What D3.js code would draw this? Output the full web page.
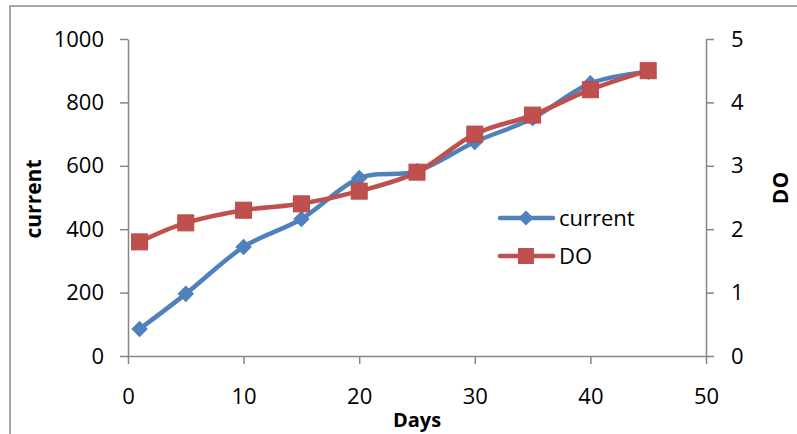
<!DOCTYPE html>
<html><head><meta charset="utf-8">
<script src="https://cdn.jsdelivr.net/npm/d3@7"></script>
<style>
html,body{margin:0;padding:0;background:#fff;overflow:hidden;}
svg{display:block;font-family:"Open Sans",sans-serif;}
</style></head>
<body>
<svg id="c" width="797" height="434"></svg>
<script>
const days = [1, 5, 10, 15, 20, 25, 30, 35, 40, 45];
const current = [85, 196, 344, 432, 561, 583, 675, 750, 860, 897];
const DO = [1.8, 2.1, 2.3, 2.4, 2.6, 2.9, 3.5, 3.8, 4.2, 4.5];
const xTicks = [0, 10, 20, 30, 40, 50];
const yLeftTicks = [0, 200, 400, 600, 800, 1000];
const yRightTicks = [0, 1, 2, 3, 4, 5];

const svg = d3.select("#c");
const L = 128, R = 706, T = 39, B = 356;
const x = d3.scaleLinear().domain([0, 50]).range([L, R]);
const yL = d3.scaleLinear().domain([0, 1000]).range([B, T]);
const yR = d3.scaleLinear().domain([0, 5]).range([B, T]);
const axisCol = "#868686";
const blue = "#4F81BD", red = "#C0504D";
const fmt = d3.format("d");

// outer border
svg.append("rect").attr("x", 10).attr("y", 6).attr("width", 800).attr("height", 440)
  .attr("fill", "none").attr("stroke", "#a6a6a6").attr("stroke-width", 2);

function styleAxis(g) {
  g.selectAll("path").attr("stroke", axisCol).attr("stroke-width", 1.5);
  g.selectAll("line").attr("stroke", axisCol).attr("stroke-width", 1.5);
  g.selectAll("text").attr("fill", "#000").style("font-size", "22px").style("font-family", "'Open Sans',sans-serif");
}

const gx = svg.append("g").attr("transform", `translate(0,${B})`)
  .call(d3.axisBottom(x).tickValues(xTicks).tickFormat(fmt).tickSize(8).tickSizeOuter(0).tickPadding(29));
styleAxis(gx);
const gl = svg.append("g").attr("transform", `translate(${L},0)`)
  .call(d3.axisLeft(yL).tickValues(yLeftTicks).tickFormat(fmt).tickSize(8).tickSizeOuter(0).tickPadding(16));
styleAxis(gl);
const gr = svg.append("g").attr("transform", `translate(${R},0)`)
  .call(d3.axisRight(yR).tickValues(yRightTicks).tickFormat(fmt).tickSize(8).tickSizeOuter(0).tickPadding(17));
styleAxis(gr);
gx.selectAll("text").attr("dy", "0.5em");

// axis titles
svg.append("text").attr("transform", "translate(41,199) rotate(-90)")
  .attr("text-anchor", "middle").style("font-weight", "bold").style("font-size", "21px").text("current");
svg.append("text").attr("transform", "translate(788,188) rotate(-90)")
  .attr("text-anchor", "middle").style("font-weight", "bold").style("font-size", "21px").text("DO");
svg.append("text").attr("x", 417).attr("y", 427)
  .attr("text-anchor", "middle").style("font-weight", "bold").style("font-size", "20px").text("Days");

const curve = d3.curveCardinal.tension(0);
const lineL = d3.line().x((d, i) => x(days[i])).y(d => yL(d)).curve(curve);
const lineR = d3.line().x((d, i) => x(days[i])).y(d => yR(d)).curve(curve);

svg.append("path").attr("d", lineL(current)).attr("fill", "none").attr("stroke", blue).attr("stroke-width", 4.5).attr("stroke-linejoin", "round");
const diamond = d3.symbol().type(d3.symbolSquare).size(115);
svg.selectAll(".dm").data(current).join("path")
  .attr("d", diamond)
  .attr("transform", (d, i) => `translate(${x(days[i])},${yL(d)}) rotate(45)`)
  .attr("fill", blue).attr("stroke", blue).attr("stroke-width", 1);

svg.append("path").attr("d", lineR(DO)).attr("fill", "none").attr("stroke", red).attr("stroke-width", 4.5).attr("stroke-linejoin", "round");
svg.selectAll(".sq").data(DO).join("rect")
  .attr("x", (d, i) => x(days[i]) - 8).attr("y", d => yR(d) - 8)
  .attr("width", 16).attr("height", 16)
  .attr("fill", red).attr("stroke", "#b84a47").attr("stroke-width", 1);

// legend
const lg = svg.append("g");
lg.append("line").attr("x1", 500).attr("x2", 553).attr("y1", 218).attr("y2", 218).attr("stroke", blue).attr("stroke-width", 4.5).attr("stroke-linecap", "round");
lg.append("path").attr("d", diamond).attr("transform", "translate(526,218) rotate(45)").attr("fill", blue);
lg.append("text").attr("x", 559).attr("y", 218).attr("dy", "0.35em").style("font-size", "22px").text("current");
lg.append("line").attr("x1", 500).attr("x2", 553).attr("y1", 256).attr("y2", 256).attr("stroke", red).attr("stroke-width", 4.5).attr("stroke-linecap", "round");
lg.append("rect").attr("x", 518).attr("y", 248).attr("width", 16).attr("height", 16).attr("fill", red);
lg.append("text").attr("x", 559).attr("y", 256).attr("dy", "0.35em").style("font-size", "22px").text("DO");
</script>
</body></html>
